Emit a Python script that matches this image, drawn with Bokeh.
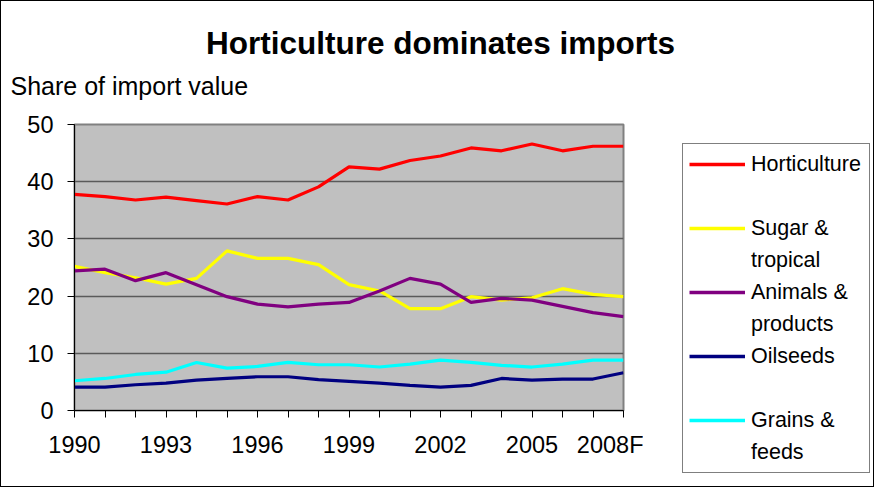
from bokeh.plotting import figure
from bokeh.models import Range1d, FixedTicker, Legend, LegendItem, Label
from bokeh.layouts import column, row
from bokeh.embed import file_html
from bokeh.resources import INLINE

years = list(range(1990, 2009))
horticulture = [37.8, 37.4, 36.8, 37.3, 36.7, 36.1, 37.4, 36.8, 39.1, 42.6,
                42.2, 43.7, 44.5, 45.9, 45.4, 46.6, 45.4, 46.2, 46.2]
sugar_tropical = [25.2, 24.1, 23.2, 22.1, 23.1, 27.9, 26.6, 26.6, 25.5, 22.0,
                  20.9, 17.8, 17.8, 19.9, 19.3, 19.7, 21.3, 20.3, 19.9]
animals_products = [24.4, 24.7, 22.7, 24.1, 22.0, 19.9, 18.6, 18.1, 18.6, 18.9,
                    20.9, 23.1, 22.1, 18.9, 19.6, 19.3, 18.2, 17.1, 16.4]
oilseeds = [4.1, 4.1, 4.5, 4.8, 5.3, 5.6, 5.9, 5.9, 5.4, 5.1,
            4.8, 4.4, 4.1, 4.4, 5.6, 5.3, 5.5, 5.5, 6.6]
grains_feeds = [5.2, 5.6, 6.3, 6.7, 8.4, 7.4, 7.7, 8.4, 8.0, 8.0,
                7.6, 8.1, 8.8, 8.4, 7.9, 7.6, 8.1, 8.8, 8.8]

labeled_years = {1990: "1990", 1993: "1993", 1996: "1996", 1999: "1999",
                 2002: "2002", 2005: "2005", 2008: "2008F"}
y_ticks = [0, 10, 20, 30, 40, 50]

series_names = ["Horticulture", "Sugar &\ntropical", "Animals &\nproducts",
                "Oilseeds", "Grains &\nfeeds"]
series_colors = ["#FF0000", "#FFFF00", "#800080", "#000080", "#00FFFF"]
series_values = [horticulture, sugar_tropical, animals_products, oilseeds, grains_feeds]

title_text = "Horticulture dominates imports"
subtitle_text = "Share of import value"

FONT = "Liberation Sans"

# ---------- title strip ----------
tf = figure(width=872, height=100, output_backend="svg", toolbar_location=None,
            x_axis_type=None, y_axis_type=None, x_range=Range1d(0, 1),
            y_range=Range1d(0, 1), min_border=0, outline_line_color=None)
tf.grid.visible = False
tf.background_fill_color = "white"
tf.border_fill_color = "white"
tf.add_layout(Label(x=439, y=59, x_units="screen", y_units="screen",
                    text=title_text, text_align="center", text_baseline="alphabetic",
                    text_font=FONT, text_font_size="31.5px", text_font_style="bold",
                    text_color="black"))
tf.add_layout(Label(x=9, y=15.5, x_units="screen", y_units="screen",
                    text=subtitle_text, text_align="left", text_baseline="alphabetic",
                    text_font=FONT, text_font_size="25px", text_color="black"))

# ---------- main chart ----------
p = figure(width=642, height=385, output_backend="svg", toolbar_location=None,
           x_range=Range1d(1990, 2008), y_range=Range1d(0, 50),
           min_border_left=73, min_border_right=20, min_border_top=23,
           min_border_bottom=76)
p.background_fill_color = "#C0C0C0"
p.border_fill_color = "white"
p.outline_line_color = "#808080"
p.outline_line_width = 2

p.xgrid.visible = False
p.ygrid.grid_line_color = "#5a5a5a"
p.ygrid.grid_line_width = 1.5
p.ygrid.ticker = FixedTicker(ticks=y_ticks)

p.yaxis.ticker = FixedTicker(ticks=y_ticks)
p.xaxis.ticker = FixedTicker(ticks=years)
p.xaxis.major_label_overrides = {y: labeled_years.get(y, "") for y in years}
for ax in (p.xaxis, p.yaxis):
    ax.axis_line_color = "black"
    ax.axis_line_width = 1
    ax.major_tick_line_color = "black"
    ax.major_tick_out = 7
    ax.major_tick_in = 0
    ax.minor_tick_line_color = None
    ax.major_label_text_font = FONT
    ax.major_label_text_font_size = "23.5px"
    ax.major_label_text_color = "black"
    ax.major_label_standoff = 14

for vals, col in zip(series_values, series_colors):
    p.line(years, vals, line_color=col, line_width=3.2)

# ---------- legend strip ----------
# the legend figure's ranges (0..1) keep these copies of the series out of view;
# they only supply the legend swatches
lf = figure(width=230, height=385, output_backend="svg", toolbar_location=None,
            x_axis_type=None, y_axis_type=None, x_range=Range1d(0, 1),
            y_range=Range1d(0, 1), min_border=0, outline_line_color=None)
lf.grid.visible = False
lf.background_fill_color = "white"
lf.border_fill_color = "white"

swatches = [lf.line(years, vals, line_color=col, line_width=3.5)
            for vals, col in zip(series_values, series_colors)]
blank = lf.line(years, horticulture, line_alpha=0)

items = []
for name, sw in zip(series_names, swatches):
    parts = name.split("\n")
    items.append(LegendItem(label=parts[0], renderers=[sw]))
    items.append(LegendItem(label=parts[1] if len(parts) > 1 else "", renderers=[blank]))

legend = Legend(items=items, location=(39, 13), margin=0,
                border_line_color="black", border_line_width=1,
                background_fill_color="white", background_fill_alpha=1,
                label_text_font=FONT, label_text_font_size="21.5px",
                label_text_color="black",
                glyph_width=56, glyph_height=28, label_height=28,
                label_standoff=6, padding=6, spacing=4, label_width=112)
lf.add_layout(legend)

layout = column(tf, row(p, column(lf)), styles={"border": "1px solid #000000"})
open("out.html", "w").write(file_html(layout, INLINE))
